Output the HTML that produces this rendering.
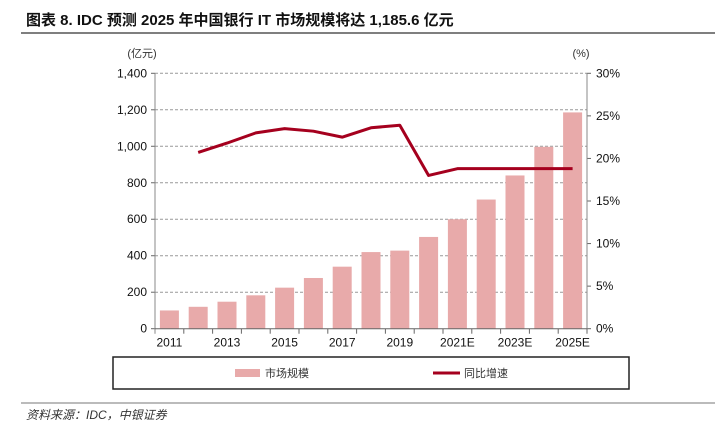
<!DOCTYPE html>
<html><head><meta charset="utf-8"><style>
body{margin:0;background:#fff;width:715px;height:434px;overflow:hidden;font-family:"Liberation Sans","Noto Sans CJK SC",sans-serif;}
</style></head><body>
<svg width="715" height="434" xmlns="http://www.w3.org/2000/svg" font-family="Liberation Sans, Noto Sans CJK SC, sans-serif">
<text x="26" y="25" font-size="15" font-weight="bold" fill="#111">图表 8. IDC 预测 2025 年中国银行 IT 市场规模将达 1,185.6 亿元</text>
<line x1="21" y1="33" x2="715" y2="33" stroke="#333" stroke-width="1.2"/>
<g id="chart"></g>
<rect x="113" y="357" width="516" height="32" fill="none" stroke="#222" stroke-width="1.5"/>
<rect x="235" y="369" width="25" height="8" fill="#e8aaaa"/>
<text x="265" y="377" font-size="11" fill="#333">市场规模</text>
<line x1="433" y1="373" x2="460" y2="373" stroke="#a5001e" stroke-width="3"/>
<text x="464" y="377" font-size="11" fill="#333">同比增速</text>
<line x1="21" y1="403" x2="715" y2="403" stroke="#777" stroke-width="1"/>
<text x="26" y="419" font-size="12" font-style="italic" fill="#333">资料来源：IDC，中银证券</text>
</svg>
<script>
const categories=["2011","2012","2013","2014","2015","2016","2017","2018","2019","2020","2021E","2022E","2023E","2024E","2025E"];
const marketSize=[100,120,148,183,225,278,340,420,428,503,600,708,840,997,1185.6];
const growth=[null,20.7,21.8,23.0,23.5,23.2,22.5,23.6,23.9,18.0,18.8,18.8,18.8,18.8,18.8];
const leftTicks=[0,200,400,600,800,1000,1200,1400];
const rightTicks=[0,5,10,15,20,25,30];
const NS="http://www.w3.org/2000/svg";
const g=document.getElementById('chart');
const X0=155,X1=587,Y0=328.7,Y1=73.3;
const bw=(X1-X0)/categories.length;
const yL=v=>Y0-(v/1400)*(Y0-Y1);
const yR=v=>Y0-(v/30)*(Y0-Y1);
const xC=i=>X0+bw*(i+0.5);
function mk(t,a){const e=document.createElementNS(NS,t);for(const k in a)e.setAttribute(k,a[k]);g.appendChild(e);return e;}
leftTicks.forEach(v=>{
 if(v>0){const l=mk('line',{x1:X0,x2:X1,y1:yL(v),y2:yL(v),stroke:'#999','stroke-dasharray':'3,2','stroke-width':1});
 
 }
 const tk=mk('line',{x1:X0-4,x2:X0,y1:yL(v),y2:yL(v),stroke:'#666'});
 
 
 const t=mk('text',{x:X0-8,y:yL(v)+4,'text-anchor':'end','font-size':12,fill:'#111'});t.textContent=v.toLocaleString('en-US');
 
 
});
rightTicks.forEach(v=>{
 const tk=mk('line',{x1:X1,x2:X1+4,y1:yR(v),y2:yR(v),stroke:'#666'});
 
 
 const t=mk('text',{x:X1+9,y:yR(v)+4,'font-size':12,fill:'#111'});t.textContent=v+'%';
 
 
});
marketSize.forEach((v,i)=>{
 const r=mk('rect',{x:xC(i)-9.5,y:yL(v),width:19,height:Y0-yL(v),fill:'#e8aaaa'});
 
 
});
let axL=mk('line',{x1:X0,x2:X0,y1:Y1,y2:Y0+5,stroke:'#888'});


let axR=mk('line',{x1:X1,x2:X1,y1:Y1,y2:Y0,stroke:'#888'});


let axB=mk('line',{x1:X0,x2:X1,y1:Y0,y2:Y0,stroke:'#666'});


categories.forEach((c,i)=>{
 const tk=mk('line',{x1:X0+bw*(i+1),x2:X0+bw*(i+1),y1:Y0,y2:Y0+5,stroke:'#666'});
 
 
 if(i%2===0){const t=mk('text',{x:xC(i),y:Y0+18,'text-anchor':'middle','font-size':12,fill:'#111'});t.textContent=c;
 
 }
});
let pts=[];growth.forEach((v,i)=>{if(v!==null)pts.push(xC(i)+','+yR(v));});
const pl=mk('polyline',{points:pts.join(' '),fill:'none',stroke:'#a5001e','stroke-width':3,'stroke-linejoin':'round'});


const u1=mk('text',{x:X0-13,y:57,'text-anchor':'middle','font-size':11,fill:'#333'});u1.textContent='(亿元)';


const u2=mk('text',{x:X1-6,y:57,'text-anchor':'middle','font-size':11,fill:'#333'});u2.textContent='(%)';


</script>
</body></html>
